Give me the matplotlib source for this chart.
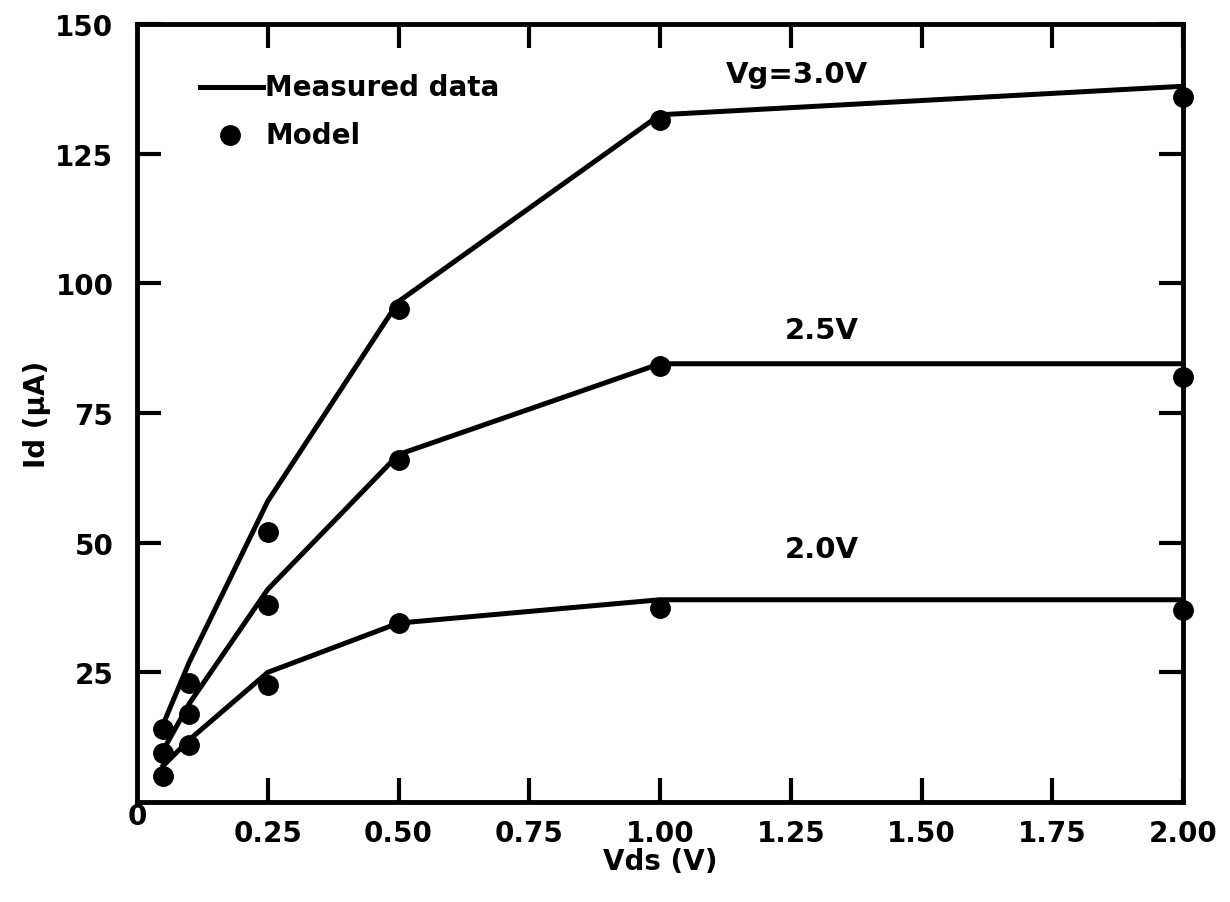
import matplotlib
matplotlib.use('Agg')
import matplotlib.pyplot as plt

# 字体
plt.rcParams['font.family'] = ['DejaVu Sans']
plt.rcParams['font.weight'] = 'bold'

# 数据
vds = [0.05, 0.1, 0.25, 0.5, 1.0, 2.0]
meas_30 = [15, 27, 58, 96.5, 132.5, 138]
meas_25 = [10, 19, 41, 67, 84.5, 84.5]
meas_20 = [7, 12, 25, 34.5, 39, 39]
model_30 = [14, 23, 52, 95, 131.5, 136]
model_25 = [9.5, 17, 38, 66, 84, 82]
model_20 = [5, 11, 22.5, 34.5, 37.5, 37]

x_ticks = [0.25, 0.5, 0.75, 1.0, 1.25, 1.5, 1.75, 2.0]
x_tick_labels = ['0.25', '0.50', '0.75', '1.00', '1.25', '1.50', '1.75', '2.00']
y_ticks = [25, 50, 75, 100, 125, 150]
curve_labels = ['Vg=3.0V', '2.5V', '2.0V']

fig = plt.figure(figsize=(12.3, 9.03), dpi=100)
ax = fig.add_axes([0.1114, 0.1107, 0.8504, 0.8616])

lw = 3.6
ms = 14
fs = 20
for meas in [meas_30, meas_25, meas_20]:
    ax.plot(vds, meas, color='black', lw=lw, solid_joinstyle='miter')
for model in [model_30, model_25, model_20]:
    ax.plot(vds, model, 'o', color='black', ms=ms, clip_on=False)

ax.set_xlim(0, 2.0)
ax.set_ylim(0, 150)
ax.set_xticks(x_ticks)
ax.set_xticklabels(x_tick_labels)
ax.set_yticks(y_ticks)
ax.set_yticklabels([str(t) for t in y_ticks])

ax.tick_params(axis='both', direction='in', length=17, width=3,
               top=True, right=True, labelsize=fs)
ax.tick_params(axis='x', pad=12)
ax.tick_params(axis='y', pad=17)
for sp in ax.spines.values():
    sp.set_linewidth(3.5)

# 角上的 0
ax.text(0, 0, '0', ha='center', va='top', fontsize=fs, fontweight='bold')

ax.set_xlabel('Vds (V)', fontsize=fs, fontweight='bold', labelpad=0)
ax.set_ylabel('Id (µA)', fontsize=fs, fontweight='bold', labelpad=3)

# 曲线标签
ax.text(1.262, 140.3, curve_labels[0], ha='center', va='center', fontsize=21, fontweight='bold')
ax.text(1.31, 91.1, curve_labels[1], ha='center', va='center', fontsize=21, fontweight='bold')
ax.text(1.31, 48.7, curve_labels[2], ha='center', va='center', fontsize=21, fontweight='bold')

# 图例
ax.plot([0.12, 0.24], [137.8, 137.8], color='black', lw=lw)
ax.text(0.245, 137.8, 'Measured data', ha='left', va='center', fontsize=fs, fontweight='bold')
ax.plot([0.178], [128.6], 'o', color='black', ms=ms)
ax.text(0.245, 128.6, 'Model', ha='left', va='center', fontsize=fs, fontweight='bold')

fig.savefig('out.png', dpi=100)
